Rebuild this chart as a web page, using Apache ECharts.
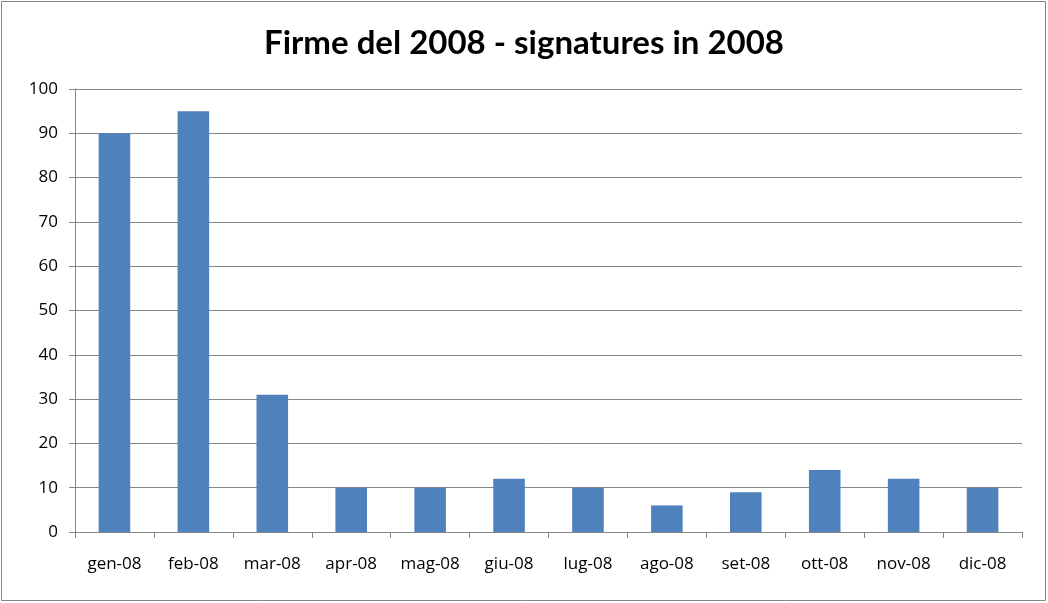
<!DOCTYPE html>
<html><head><meta charset="utf-8">
<script src="https://cdn.jsdelivr.net/npm/echarts@6/dist/echarts.min.js"></script>
<style>html,body{margin:0;padding:0;background:#fff}#c{width:1048px;height:603px}</style>
</head><body><div id="c"></div>
<script>
const categories = ['gen-08','feb-08','mar-08','apr-08','mag-08','giu-08','lug-08','ago-08','set-08','ott-08','nov-08','dic-08'];
const signatures = [90, 95, 31, 10, 10, 12, 10, 6, 9, 14, 12, 10];
const yTicks = {min: 0, max: 100, interval: 10};
const chart = echarts.init(document.getElementById('c'), null, {renderer: 'canvas'});
chart.setOption({
  animation: false,
  backgroundColor: '#fff',
  title: {
    text: 'Firme del 2008 - signatures in 2008',
    left: 'center', top: 22,
    textStyle: {fontFamily: 'Lato', fontWeight: 'bold', fontSize: 33, color: '#000'}
  },
  graphic: [{
    type: 'rect', shape: {x: 1.5, y: 1.5, width: 1044, height: 599},
    style: {fill: 'none', stroke: '#868686', lineWidth: 1}, silent: true
  }],
  grid: {left: 75, right: 26, top: 89, bottom: 71, containLabel: false},
  xAxis: {
    type: 'category', data: categories, boundaryGap: true,
    axisLine: {show: true, lineStyle: {color: '#868686', width: 1}},
    axisTick: {show: true, length: 6, interval: 0, lineStyle: {color: '#868686'}},
    axisLabel: {interval: 0, margin: 24, color: '#000', fontFamily: 'Open Sans', fontSize: 17}
  },
  yAxis: {
    type: 'value', min: yTicks.min, max: yTicks.max, interval: yTicks.interval,
    axisLine: {show: true, lineStyle: {color: '#868686', width: 1}},
    axisTick: {show: true, length: 6, inside: false, lineStyle: {color: '#868686'}},
    splitLine: {show: true, lineStyle: {color: '#868686', width: 1}},
    axisLabel: {margin: 17, color: '#000', fontFamily: 'Open Sans', fontSize: 17}
  },
  series: [{
    type: 'bar', data: signatures, barWidth: '40%',
    itemStyle: {color: '#4f81bd'}
  }]
});
</script></body></html>
